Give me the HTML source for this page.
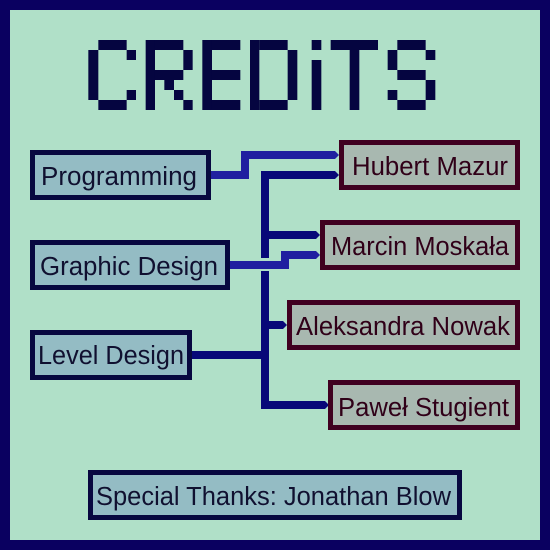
<!DOCTYPE html>
<html><head><meta charset="utf-8"><style>
html,body{margin:0;padding:0;background:#0a0060;}
svg{display:block}
text{font-family:"Liberation Sans",sans-serif;font-size:25.5px;}
</style></head><body>
<svg width="550" height="550" viewBox="0 0 550 550" xmlns="http://www.w3.org/2000/svg">
<rect x="0" y="0" width="550" height="550" fill="#0a0060"/>
<rect x="10" y="10" width="530" height="530" fill="#b0e0c8"/>
<g transform="scale(0.33333)" fill="#050540">
<rect x="295" y="120" width="85" height="30"/><rect x="265" y="150" width="30" height="150"/>
<rect x="380" y="150" width="28" height="30"/><rect x="380" y="270" width="28" height="30"/>
<rect x="295" y="300" width="85" height="30"/>
<rect x="437" y="120" width="28" height="210"/><rect x="465" y="120" width="85" height="30"/>
<rect x="550" y="150" width="28" height="60"/><rect x="465" y="210" width="85" height="30"/>
<rect x="493" y="240" width="29" height="30"/><rect x="522" y="270" width="28" height="30"/>
<rect x="550" y="300" width="28" height="30"/>
<rect x="607" y="120" width="29" height="210"/><rect x="636" y="120" width="85" height="30"/>
<rect x="636" y="210" width="85" height="30"/><rect x="636" y="300" width="85" height="30"/>
<rect x="750" y="120" width="28" height="210"/><rect x="778" y="120" width="85" height="30"/>
<rect x="863" y="150" width="29" height="150"/><rect x="778" y="300" width="85" height="30"/>
<rect x="935" y="120" width="29" height="30"/><rect x="935" y="180" width="29" height="150"/>
<rect x="992" y="120" width="142" height="30"/><rect x="1049" y="150" width="29" height="180"/>
<rect x="1192" y="120" width="85" height="30"/><rect x="1163" y="150" width="29" height="60"/>
<rect x="1277" y="150" width="29" height="30"/><rect x="1192" y="210" width="85" height="30"/>
<rect x="1277" y="240" width="29" height="60"/><rect x="1163" y="270" width="29" height="30"/>
<rect x="1192" y="300" width="85" height="30"/>
</g>

<g fill="#080878">
<rect x="261" y="171" width="8" height="87"/>
<rect x="261" y="271" width="8" height="138"/>
<rect x="261" y="171" width="74" height="8"/><polygon points="335,171 339,175 335,179"/>
<rect x="261" y="231" width="55" height="8"/><polygon points="316,231 320,235 316,239"/>
<rect x="261" y="321" width="22" height="8"/><polygon points="283,321 287,325 283,329"/>
<rect x="261" y="401" width="64" height="8"/><polygon points="325,401 329,405 325,409"/>
<rect x="192" y="351" width="77" height="8"/>
</g>
<g fill="#2020a0">
<rect x="210" y="171" width="39" height="8"/>
<rect x="241" y="151" width="8" height="28"/>
<rect x="241" y="151" width="94" height="8"/><polygon points="335,151 339,155 335,159"/>
<rect x="230" y="261" width="59" height="8"/>
<rect x="281" y="251" width="8" height="18"/>
<rect x="281" y="251" width="35" height="8"/><polygon points="316,251 320,255 316,259"/>
</g>

<g fill="#94bcc4" stroke="#080840" stroke-width="5">
<rect x="32.5" y="152.5" width="176" height="45"/>
<rect x="32.5" y="242.5" width="195" height="45"/>
<rect x="32.5" y="332.5" width="157" height="45"/>
<rect x="90.5" y="472.5" width="369" height="45"/>
</g>
<g fill="#101030">
<text x="41" y="185" textLength="156" lengthAdjust="spacingAndGlyphs">Programming</text>
<text x="40" y="275" textLength="178" lengthAdjust="spacingAndGlyphs">Graphic Design</text>
<text x="38" y="364" textLength="146" lengthAdjust="spacingAndGlyphs">Level Design</text>
<text x="96" y="505" textLength="355" lengthAdjust="spacingAndGlyphs">Special Thanks: Jonathan Blow</text>
</g>
<g fill="#a8b8b0" stroke="#400020" stroke-width="5">
<rect x="341.5" y="142.5" width="176" height="45"/>
<rect x="322.5" y="222.5" width="195" height="45"/>
<rect x="289.5" y="302.5" width="228" height="45"/>
<rect x="330.5" y="382.5" width="187" height="45"/>
</g>
<g fill="#300018">
<text x="352" y="175" textLength="156" lengthAdjust="spacingAndGlyphs">Hubert Mazur</text>
<text x="331" y="255" textLength="178" lengthAdjust="spacingAndGlyphs">Marcin Moskała</text>
<text x="296" y="335" textLength="214" lengthAdjust="spacingAndGlyphs">Aleksandra Nowak</text>
<text x="338" y="416" textLength="171" lengthAdjust="spacingAndGlyphs">Paweł Stugient</text>
</g>
</svg>
</body></html>
